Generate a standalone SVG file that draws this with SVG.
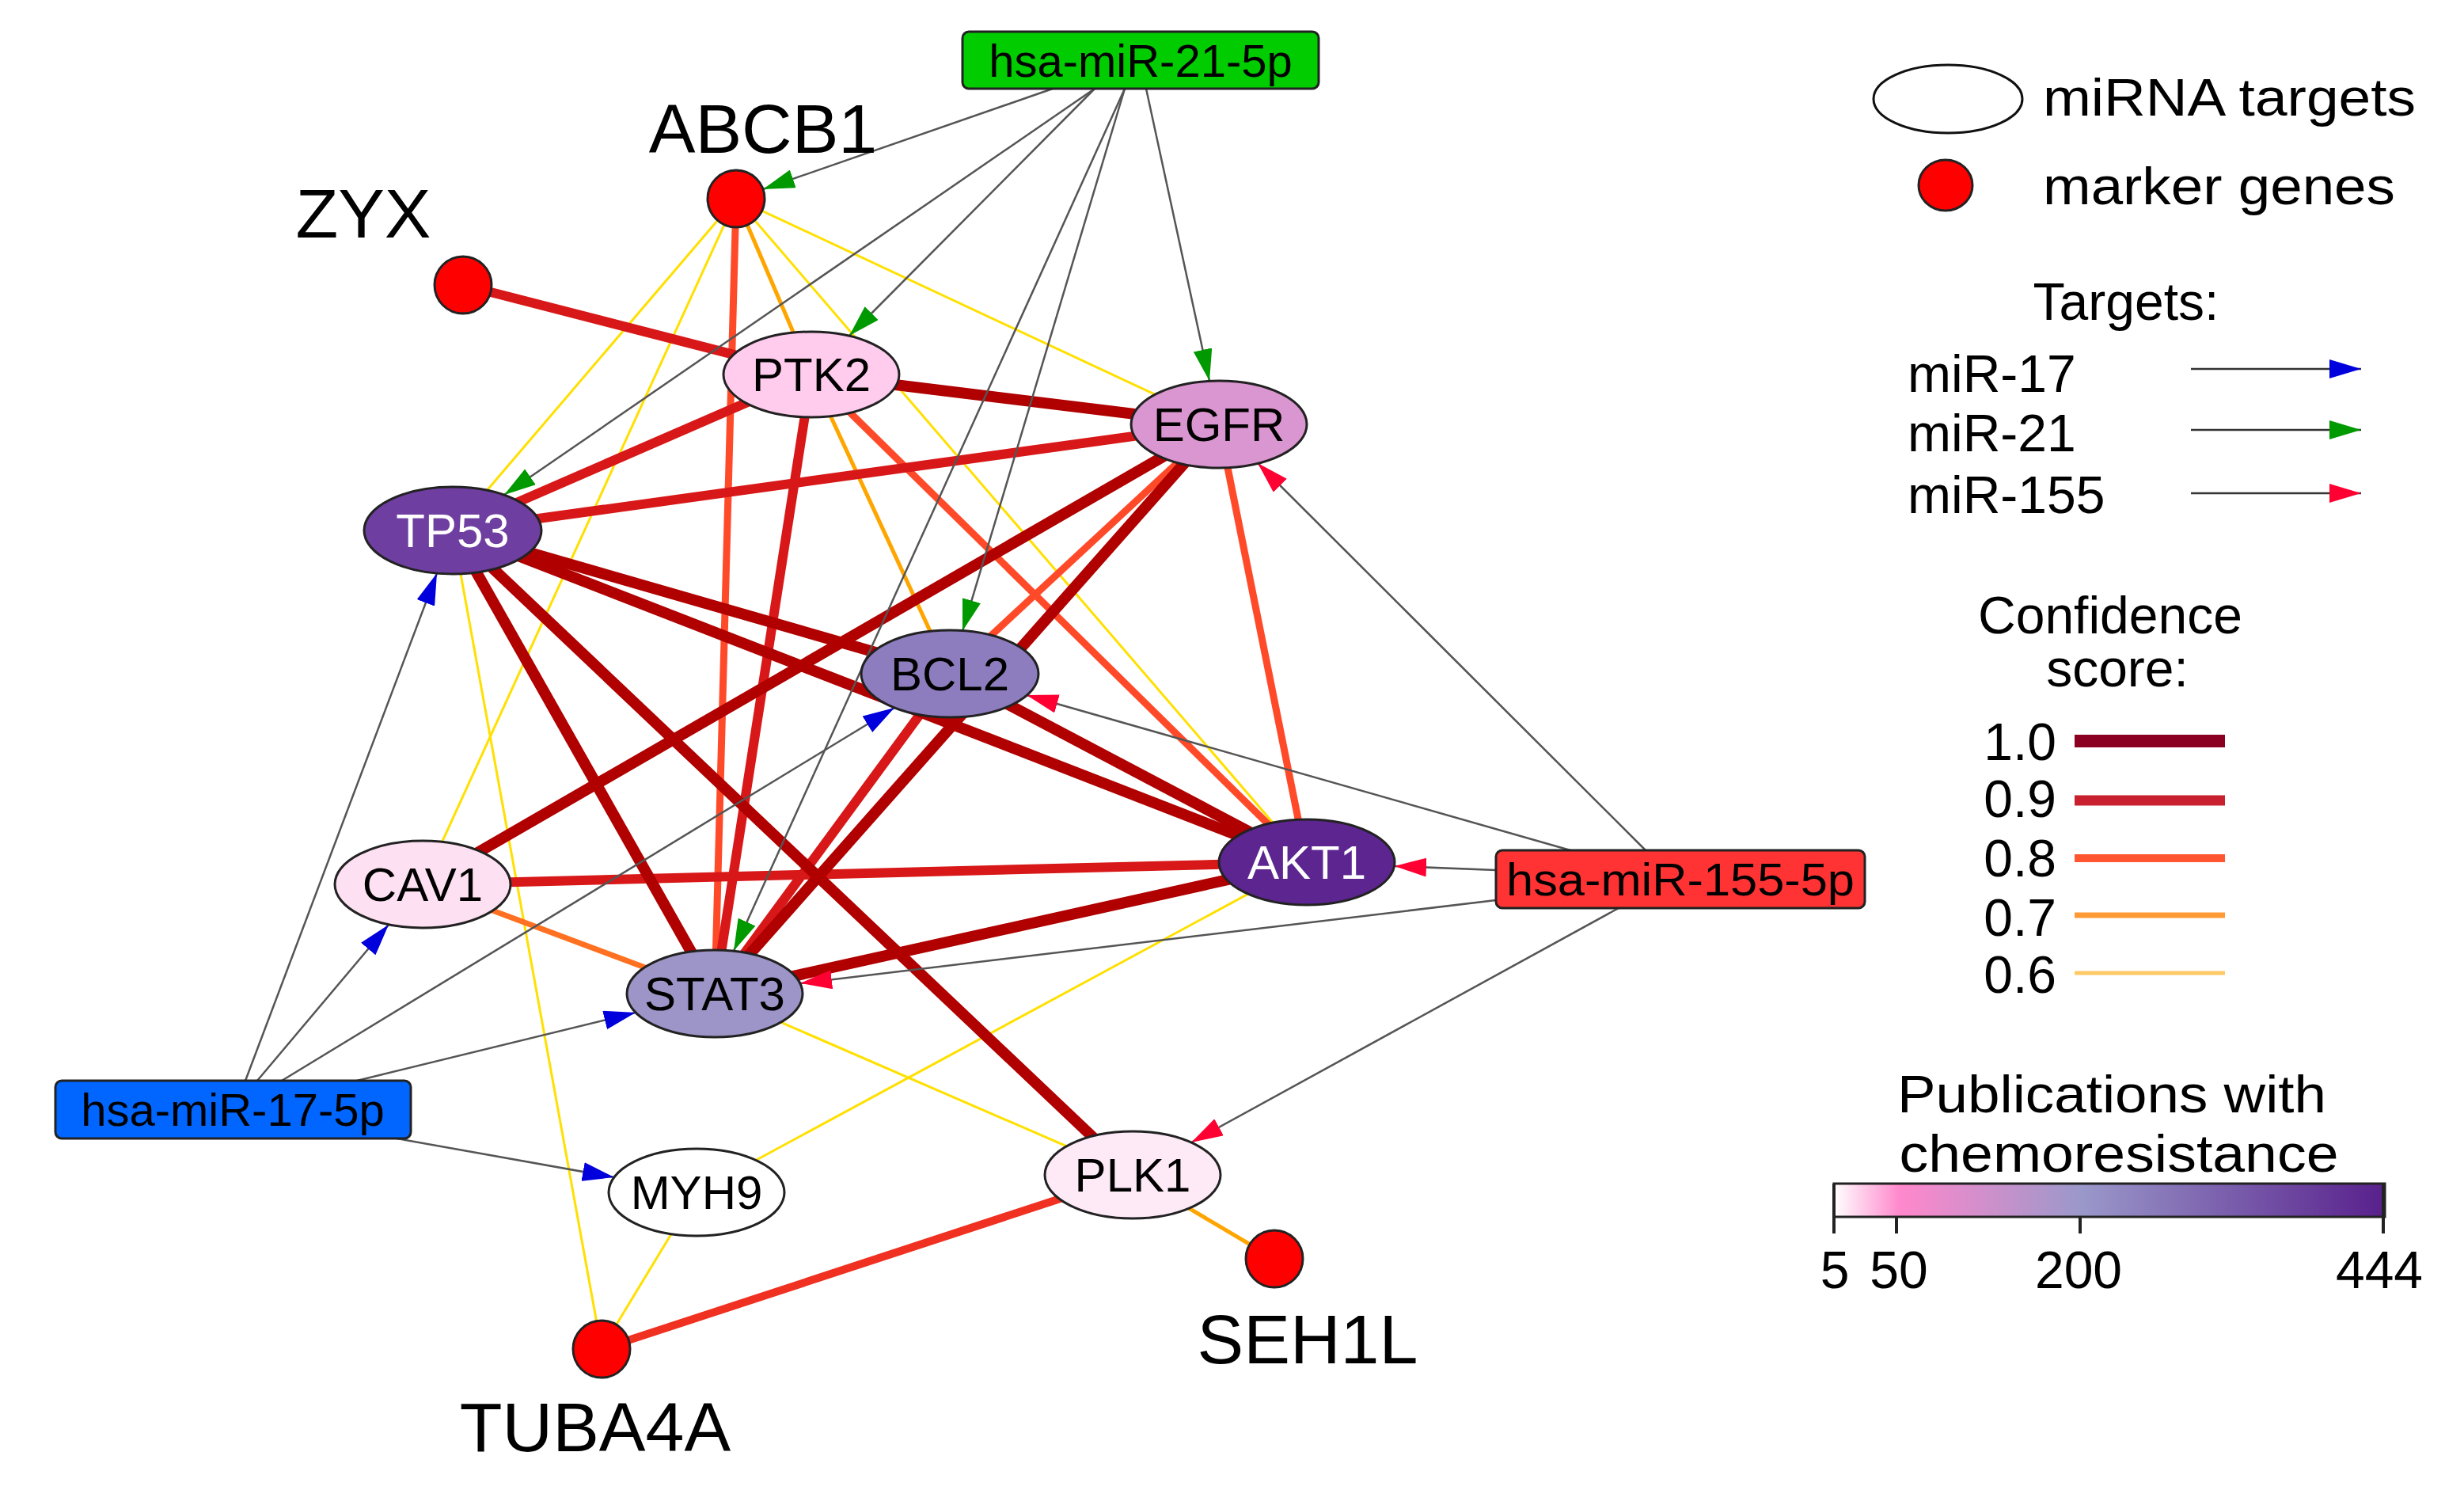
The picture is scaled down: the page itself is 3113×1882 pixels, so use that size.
<svg xmlns="http://www.w3.org/2000/svg" width="3113" height="1882" viewBox="0 0 3113 1882">
<style>
text{font-family:"Liberation Sans",Arial,sans-serif;fill:#000}
.nl{font-size:60px;text-anchor:middle}
.bl{font-size:58px;text-anchor:middle}
.big{font-size:88px;text-anchor:middle}
.lg{font-size:66px}
.node{stroke:#222;stroke-width:3}
.mk{fill:#FF0000;stroke:#222;stroke-width:3}
.box{stroke:#222;stroke-width:3}
.e6{stroke:#FFE000;stroke-width:3}
.e7{stroke:#FFA500;stroke-width:5}
.e75{stroke:#FF7020;stroke-width:7}
.e8{stroke:#FF4A2A;stroke-width:9}
.e85{stroke:#F03020;stroke-width:10}
.e9{stroke:#D81818;stroke-width:12}
.e10{stroke:#B00000;stroke-width:14}
.mi{stroke:#555;stroke-width:2.5;fill:none}
</style>
<defs>
<marker id="ab" markerUnits="userSpaceOnUse" markerWidth="40" markerHeight="24" refX="40" refY="12" orient="auto"><path d="M0,0L40,12L0,24z" fill="#0000DD"/></marker>
<marker id="ag" markerUnits="userSpaceOnUse" markerWidth="40" markerHeight="24" refX="40" refY="12" orient="auto"><path d="M0,0L40,12L0,24z" fill="#009900"/></marker>
<marker id="ar" markerUnits="userSpaceOnUse" markerWidth="40" markerHeight="24" refX="40" refY="12" orient="auto"><path d="M0,0L40,12L0,24z" fill="#FF0033"/></marker>
<linearGradient id="pub" x1="0" x2="1" y1="0" y2="0">
<stop offset="0" stop-color="#FFFFFF"/><stop offset="0.12" stop-color="#FF88CC"/><stop offset="0.45" stop-color="#9A98CA"/><stop offset="1" stop-color="#58208C"/>
</linearGradient>
</defs>
<g id="connectors">
<line class="e6" x1="930" y1="251" x2="572" y2="670"/>
<line class="e6" x1="930" y1="251" x2="534" y2="1117"/>
<line class="e6" x1="930" y1="251" x2="1540" y2="536"/>
<line class="e6" x1="930" y1="251" x2="1651" y2="1089"/>
<line class="e6" x1="572" y1="670" x2="760" y2="1704"/>
<line class="e6" x1="903" y1="1255" x2="1431" y2="1484"/>
<line class="e6" x1="880" y1="1506" x2="1651" y2="1089"/>
<line class="e6" x1="880" y1="1506" x2="760" y2="1704"/>
<line class="e7" x1="930" y1="251" x2="1025" y2="473"/>
<line class="e7" x1="1025" y1="473" x2="1200" y2="851"/>
<line class="e7" x1="1431" y1="1484" x2="1610" y2="1590"/>
<line class="e75" x1="534" y1="1117" x2="903" y2="1255"/>
<line class="e8" x1="930" y1="251" x2="903" y2="1255"/>
<line class="e8" x1="1025" y1="473" x2="1651" y2="1089"/>
<line class="e8" x1="1540" y1="536" x2="1651" y2="1089"/>
<line class="e8" x1="1540" y1="536" x2="1200" y2="851"/>
<line class="e85" x1="1431" y1="1484" x2="760" y2="1704"/>
<line class="e9" x1="585" y1="360" x2="1025" y2="473"/>
<line class="e9" x1="572" y1="670" x2="1025" y2="473"/>
<line class="e9" x1="572" y1="670" x2="1540" y2="536"/>
<line class="e9" x1="1025" y1="473" x2="903" y2="1255"/>
<line class="e9" x1="534" y1="1117" x2="1651" y2="1089"/>
<line class="e9" x1="1200" y1="851" x2="903" y2="1255"/>
<line class="e10" x1="1025" y1="473" x2="1540" y2="536"/>
<line class="e10" x1="572" y1="670" x2="1200" y2="851"/>
<line class="e10" x1="572" y1="670" x2="1651" y2="1089"/>
<line class="e10" x1="572" y1="670" x2="903" y2="1255"/>
<line class="e10" x1="572" y1="670" x2="1431" y2="1484"/>
<line class="e10" x1="1540" y1="536" x2="534" y2="1117"/>
<line class="e10" x1="1540" y1="536" x2="903" y2="1255"/>
<line class="e10" x1="1200" y1="851" x2="1651" y2="1089"/>
<line class="e10" x1="1651" y1="1089" x2="903" y2="1255"/>
<line class="mi" x1="1330" y1="112" x2="964" y2="239" marker-end="url(#ag)"/>
<line class="mi" x1="1383" y1="112" x2="637" y2="625" marker-end="url(#ag)"/>
<line class="mi" x1="1383" y1="112" x2="1073" y2="424" marker-end="url(#ag)"/>
<line class="mi" x1="1421" y1="112" x2="1216" y2="797" marker-end="url(#ag)"/>
<line class="mi" x1="1421" y1="112" x2="927" y2="1201" marker-end="url(#ag)"/>
<line class="mi" x1="1448" y1="112" x2="1528" y2="481" marker-end="url(#ag)"/>
<line class="mi" x1="310" y1="1365" x2="552" y2="724" marker-end="url(#ab)"/>
<line class="mi" x1="325" y1="1365" x2="491" y2="1168" marker-end="url(#ab)"/>
<line class="mi" x1="356" y1="1365" x2="1130" y2="894" marker-end="url(#ab)"/>
<line class="mi" x1="451" y1="1365" x2="803" y2="1279" marker-end="url(#ab)"/>
<line class="mi" x1="501" y1="1438" x2="776" y2="1487" marker-end="url(#ab)"/>
<line class="mi" x1="1890" y1="1099" x2="1762" y2="1094" marker-end="url(#ar)"/>
<line class="mi" x1="1984" y1="1074" x2="1297" y2="878" marker-end="url(#ar)"/>
<line class="mi" x1="2079" y1="1074" x2="1589" y2="585" marker-end="url(#ar)"/>
<line class="mi" x1="1890" y1="1137" x2="1011" y2="1242" marker-end="url(#ar)"/>
<line class="mi" x1="2045" y1="1147" x2="1505" y2="1443" marker-end="url(#ar)"/>
</g>
<g id="ABCB1"><circle class="mk" cx="930" cy="251" r="36"/><text class="big" x="964" y="193">ABCB1</text></g>
<g id="ZYX"><circle class="mk" cx="585" cy="360" r="36"/><text class="big" x="459" y="300">ZYX</text></g>
<g id="TUBA4A"><circle class="mk" cx="760" cy="1704" r="36"/><text class="big" x="752" y="1833">TUBA4A</text></g>
<g id="SEH1L"><circle class="mk" cx="1610" cy="1590" r="36"/><text class="big" x="1652" y="1722">SEH1L</text></g>
<g id="PTK2"><ellipse class="node" cx="1025" cy="473" rx="111" ry="54" fill="#FFCCEE"/><text class="nl" x="1025" y="494">PTK2</text></g>
<g id="EGFR"><ellipse class="node" cx="1540" cy="536" rx="111" ry="55" fill="#DA96D0"/><text class="nl" x="1540" y="557">EGFR</text></g>
<g id="TP53"><ellipse class="node" cx="572" cy="670" rx="112" ry="55" fill="#6E3FA0"/><text class="nl" x="572" y="691" style="fill:#fff">TP53</text></g>
<g id="BCL2"><ellipse class="node" cx="1200" cy="851" rx="112" ry="55" fill="#8E7DBE"/><text class="nl" x="1200" y="872">BCL2</text></g>
<g id="CAV1"><ellipse class="node" cx="534" cy="1117" rx="111" ry="55" fill="#FDE0F2"/><text class="nl" x="534" y="1138">CAV1</text></g>
<g id="AKT1"><ellipse class="node" cx="1651" cy="1089" rx="111" ry="54" fill="#5C2590"/><text class="nl" x="1651" y="1110" style="fill:#fff">AKT1</text></g>
<g id="STAT3"><ellipse class="node" cx="903" cy="1255" rx="111" ry="55" fill="#9D95C8"/><text class="nl" x="903" y="1276">STAT3</text></g>
<g id="MYH9"><ellipse class="node" cx="880" cy="1506" rx="111" ry="55" fill="#FFFFFF"/><text class="nl" x="880" y="1527">MYH9</text></g>
<g id="PLK1"><ellipse class="node" cx="1431" cy="1484" rx="111" ry="55" fill="#FDEAF6"/><text class="nl" x="1431" y="1505">PLK1</text></g>
<g id="miR21"><rect class="box" x="1216" y="40" width="450" height="72" rx="8" fill="#00CC00"/><text class="bl" x="1441" y="97">hsa-miR-21-5p</text></g>
<g id="miR17"><rect class="box" x="70" y="1365" width="449" height="73" rx="8" fill="#0066FF"/><text class="bl" x="294" y="1422">hsa-miR-17-5p</text></g>
<g id="miR155"><rect class="box" x="1890" y="1074" width="466" height="73" rx="8" fill="#FF3333"/><text class="bl" x="2123" y="1131" textLength="440" lengthAdjust="spacingAndGlyphs">hsa-miR-155-5p</text></g>
<g id="legend">
<ellipse cx="2461" cy="125" rx="94" ry="43" fill="#fff" stroke="#111" stroke-width="3"/>
<text class="lg" x="2581" y="146" textLength="471" lengthAdjust="spacingAndGlyphs">miRNA targets</text>
<ellipse class="mk" cx="2458" cy="234" rx="34" ry="32"/>
<text class="lg" x="2581" y="258" textLength="445" lengthAdjust="spacingAndGlyphs">marker genes</text>
<text class="lg" x="2686" y="404" text-anchor="middle">Targets:</text>
<text class="lg" x="2410" y="495">miR-17</text>
<text class="lg" x="2410" y="570">miR-21</text>
<text class="lg" x="2410" y="648">miR-155</text>
<line class="mi" x1="2768" y1="466" x2="2983" y2="466" marker-end="url(#ab)" style="stroke:#333"/>
<line class="mi" x1="2768" y1="543" x2="2983" y2="543" marker-end="url(#ag)" style="stroke:#333"/>
<line class="mi" x1="2768" y1="623" x2="2983" y2="623" marker-end="url(#ar)" style="stroke:#333"/>
<text class="lg" x="2666" y="800" text-anchor="middle">Confidence</text>
<text class="lg" x="2675" y="867" text-anchor="middle">score:</text>
<text class="lg" x="2598" y="960" text-anchor="end">1.0</text>
<text class="lg" x="2598" y="1032" text-anchor="end">0.9</text>
<text class="lg" x="2598" y="1107" text-anchor="end">0.8</text>
<text class="lg" x="2598" y="1182" text-anchor="end">0.7</text>
<text class="lg" x="2598" y="1254" text-anchor="end">0.6</text>
<line x1="2621" y1="936" x2="2811" y2="936" stroke="#8B0020" stroke-width="16"/>
<line x1="2621" y1="1011" x2="2811" y2="1011" stroke="#C8202E" stroke-width="13"/>
<line x1="2621" y1="1084" x2="2811" y2="1084" stroke="#FF5530" stroke-width="10"/>
<line x1="2621" y1="1156" x2="2811" y2="1156" stroke="#FF9933" stroke-width="7"/>
<line x1="2621" y1="1229" x2="2811" y2="1229" stroke="#FFC966" stroke-width="5"/>
<text class="lg" x="2668" y="1405" text-anchor="middle" textLength="542" lengthAdjust="spacingAndGlyphs">Publications with</text>
<text class="lg" x="2677" y="1480" text-anchor="middle" textLength="555" lengthAdjust="spacingAndGlyphs">chemoresistance</text>
<rect x="2317" y="1495" width="696" height="42" fill="url(#pub)" stroke="#222" stroke-width="3"/>
<g stroke="#222" stroke-width="4">
<line x1="2317" y1="1495" x2="2317" y2="1558"/><line x1="2396" y1="1537" x2="2396" y2="1558"/><line x1="2628" y1="1537" x2="2628" y2="1558"/><line x1="3011" y1="1495" x2="3011" y2="1558"/>
</g>
<text class="lg" x="2318" y="1627" text-anchor="middle">5</text>
<text class="lg" x="2399" y="1627" text-anchor="middle">50</text>
<text class="lg" x="2626" y="1627" text-anchor="middle">200</text>
<text class="lg" x="3006" y="1627" text-anchor="middle">444</text>
</g>
</svg>
